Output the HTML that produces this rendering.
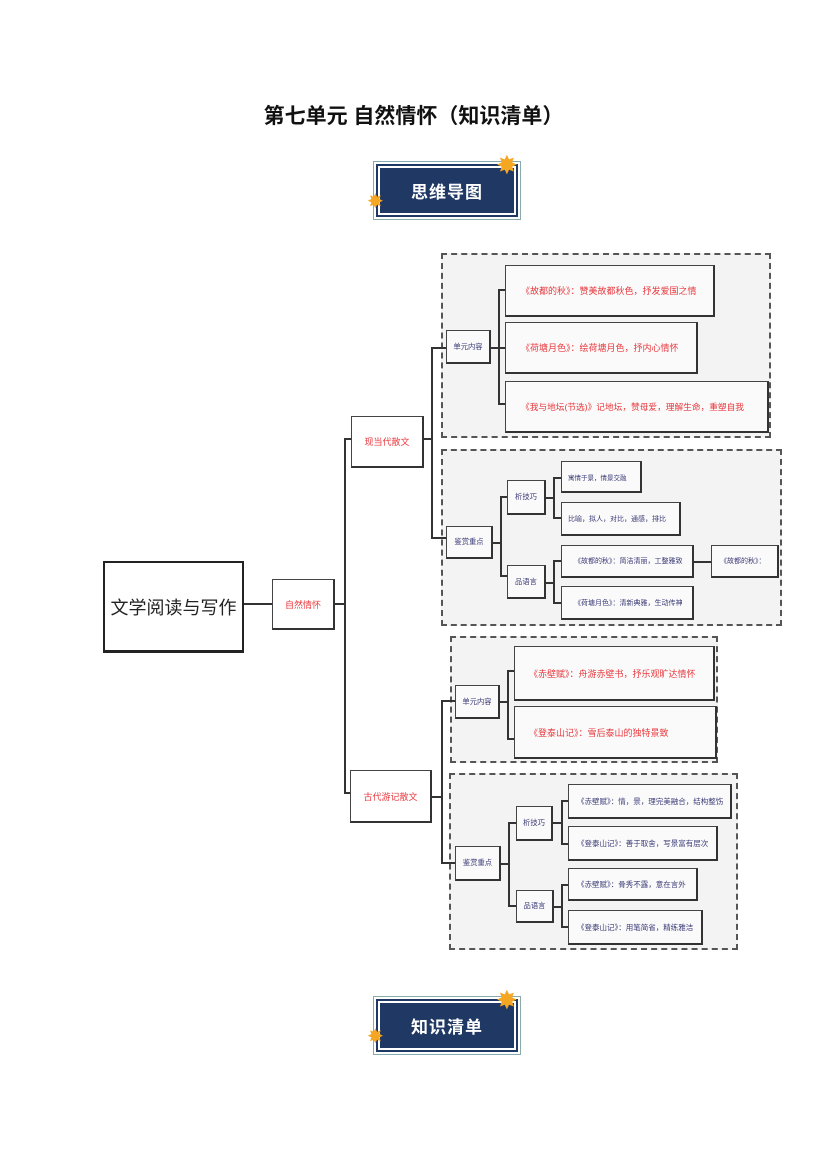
<!DOCTYPE html>
<html><head><meta charset="utf-8"><style>
body{margin:0;width:827px;height:1169px;background:#fff;position:relative;font-family:"Liberation Sans","Noto Sans CJK SC",sans-serif;overflow:hidden}
.a{position:absolute;box-sizing:border-box}
.b{position:absolute;box-sizing:border-box;background:#fafafa;border:1px solid #444;border-bottom:2px solid #333;border-right:2px solid #333;display:flex;align-items:center;font-size:7.3px;white-space:nowrap;overflow:hidden}
.r{color:#e8383d;font-size:9px}
.g{color:#3a3a78}
.c{justify-content:center}
.p{padding-left:12px}
.d{position:absolute;box-sizing:border-box;border:2px dashed #555;background:#f3f3f3}
.h{position:absolute;height:2px;background:#333}
.v{position:absolute;width:2px;background:#333}
.badge{position:absolute;width:134px;height:45px;background:#1f3864;border:2px solid #fff;outline:2px solid #1f3864;box-shadow:0 0 0 4px #fff,0 0 0 5px #8aa;color:#fff;font-weight:bold;font-size:17px;display:flex;align-items:center;justify-content:center;letter-spacing:1px}
.star{position:absolute;color:#f5a623;font-size:26px;line-height:1}
</style></head><body>
<div class="a" style="left:0;width:827px;top:100px;text-align:center;font-size:21px;font-weight:bold;color:#111">第七单元 自然情怀（知识清单）</div>

<div class="badge" style="left:378px;top:166px">思维导图</div>
<div class="star" style="left:496px;top:152px">✸</div>
<div class="star" style="left:367px;top:192px;font-size:20px">✸</div>

<div class="badge" style="left:378px;top:1001px">知识清单</div>
<div class="star" style="left:496px;top:987px">✸</div>
<div class="star" style="left:367px;top:1027px;font-size:20px">✸</div>

<div class="d" style="left:441px;top:253px;width:330px;height:185px"></div>
<div class="d" style="left:441px;top:449px;width:341px;height:177px"></div>
<div class="d" style="left:450px;top:636px;width:268px;height:127px"></div>
<div class="d" style="left:449px;top:773px;width:289px;height:177px"></div>

<div class="b c" style="left:103px;top:561px;width:141px;height:92px;font-size:18px;color:#222;border:2px solid #222;border-bottom:3px solid #222;background:#fff">文学阅读与写作</div>
<div class="h" style="left:244px;top:603px;width:28px"></div>
<div class="b c r" style="left:272px;top:579px;width:63px;height:51px;background:#fff">自然情怀</div>
<div class="h" style="left:335px;top:603px;width:10px"></div>
<div class="v" style="left:344px;top:438px;height:356px"></div>
<div class="h" style="left:344px;top:438px;width:8px"></div>
<div class="h" style="left:344px;top:792px;width:7px"></div>
<div class="b c r" style="left:351px;top:416px;width:73px;height:52px;background:#fff">现当代散文</div>
<div class="b c r" style="left:350px;top:770px;width:82px;height:53px;background:#fff">古代游记散文</div>

<div class="h" style="left:424px;top:438px;width:9px"></div>
<div class="v" style="left:431px;top:347px;height:191px"></div>
<div class="h" style="left:431px;top:347px;width:15px"></div>
<div class="h" style="left:431px;top:537px;width:15px"></div>
<div class="b c g" style="left:446px;top:330px;width:45px;height:34px">单元内容</div>
<div class="h" style="left:491px;top:347px;width:8px"></div>
<div class="v" style="left:498px;top:289px;height:115px"></div>
<div class="h" style="left:498px;top:289px;width:8px"></div>
<div class="h" style="left:498px;top:347px;width:8px"></div>
<div class="h" style="left:498px;top:403px;width:8px"></div>
<div class="b r p" style="left:505px;top:265px;width:210px;height:52px;padding-left:15px">《故都的秋》：赞美故都秋色，抒发爱国之情</div>
<div class="b r p" style="left:505px;top:322px;width:193px;height:52px;padding-left:15px">《荷塘月色》：绘荷塘月色，抒内心情怀</div>
<div class="b r p" style="left:505px;top:381px;width:264px;height:52px;padding-left:15px;font-size:8.7px">《我与地坛(节选)》记地坛，赞母爱，理解生命，重塑自我</div>

<div class="b c g" style="left:446px;top:526px;width:47px;height:33px">鉴赏重点</div>
<div class="h" style="left:493px;top:542px;width:8px"></div>
<div class="v" style="left:500px;top:496px;height:80px"></div>
<div class="h" style="left:500px;top:496px;width:8px"></div>
<div class="h" style="left:500px;top:575px;width:8px"></div>
<div class="b c g" style="left:507px;top:480px;width:39px;height:35px">析技巧</div>
<div class="b c g" style="left:507px;top:565px;width:39px;height:34px">品语言</div>
<div class="h" style="left:546px;top:497px;width:8px"></div>
<div class="v" style="left:553px;top:477px;height:42px"></div>
<div class="h" style="left:553px;top:477px;width:8px"></div>
<div class="h" style="left:553px;top:517px;width:8px"></div>
<div class="b g p" style="left:561px;top:461px;width:81px;height:32px;padding-left:6px;font-size:6.5px">寓情于景，情景交融</div>
<div class="b g p" style="left:561px;top:502px;width:120px;height:34px;padding-left:6px;font-size:7px">比喻，拟人，对比，通感，排比</div>
<div class="h" style="left:546px;top:582px;width:8px"></div>
<div class="v" style="left:553px;top:560px;height:44px"></div>
<div class="h" style="left:553px;top:560px;width:8px"></div>
<div class="h" style="left:553px;top:602px;width:8px"></div>
<div class="b g p" style="left:561px;top:545px;width:133px;height:33px;padding-left:12px;font-size:7px">《故都的秋》：简洁清丽，工整雅致</div>
<div class="b g p" style="left:561px;top:586px;width:133px;height:34px;padding-left:12px;font-size:7px">《荷塘月色》：清新典雅，生动传神</div>
<div class="h" style="left:694px;top:561px;width:17px"></div>
<div class="b g p" style="left:711px;top:545px;width:68px;height:33px;padding-left:8px;font-size:7px">《故都的秋》：</div>

<div class="h" style="left:432px;top:796px;width:10px"></div>
<div class="v" style="left:441px;top:700px;height:164px"></div>
<div class="h" style="left:441px;top:700px;width:14px"></div>
<div class="h" style="left:441px;top:862px;width:14px"></div>
<div class="b c g" style="left:455px;top:685px;width:45px;height:34px">单元内容</div>
<div class="h" style="left:500px;top:701px;width:8px"></div>
<div class="v" style="left:507px;top:670px;height:70px"></div>
<div class="h" style="left:507px;top:670px;width:8px"></div>
<div class="h" style="left:507px;top:738px;width:8px"></div>
<div class="b r p" style="left:514px;top:646px;width:201px;height:55px;padding-left:14px">《赤壁赋》：舟游赤壁书，抒乐观旷达情怀</div>
<div class="b r p" style="left:514px;top:706px;width:203px;height:53px;padding-left:14px">《登泰山记》：雪后泰山的独特景致</div>

<div class="b c g" style="left:455px;top:846px;width:46px;height:35px">鉴赏重点</div>
<div class="h" style="left:501px;top:863px;width:8px"></div>
<div class="v" style="left:508px;top:822px;height:85px"></div>
<div class="h" style="left:508px;top:822px;width:8px"></div>
<div class="h" style="left:508px;top:905px;width:8px"></div>
<div class="b c g" style="left:516px;top:806px;width:37px;height:35px">析技巧</div>
<div class="b c g" style="left:516px;top:890px;width:38px;height:33px">品语言</div>
<div class="h" style="left:553px;top:822px;width:9px"></div>
<div class="v" style="left:561px;top:800px;height:45px"></div>
<div class="h" style="left:561px;top:800px;width:8px"></div>
<div class="h" style="left:561px;top:843px;width:8px"></div>
<div class="b g p" style="left:568px;top:784px;width:164px;height:35px;padding-left:8px;font-size:7.5px">《赤壁赋》：情，景，理完美融合，结构整饬</div>
<div class="b g p" style="left:568px;top:826px;width:150px;height:35px;padding-left:8px;font-size:7.5px">《登泰山记》：善于取舍，写景富有层次</div>
<div class="h" style="left:554px;top:906px;width:8px"></div>
<div class="v" style="left:561px;top:884px;height:44px"></div>
<div class="h" style="left:561px;top:884px;width:8px"></div>
<div class="h" style="left:561px;top:926px;width:8px"></div>
<div class="b g p" style="left:568px;top:868px;width:130px;height:33px;padding-left:8px;font-size:7.5px">《赤壁赋》：骨秀不露，意在言外</div>
<div class="b g p" style="left:568px;top:910px;width:135px;height:35px;padding-left:8px;font-size:7.5px">《登泰山记》：用笔简省，精练雅洁</div>
</body></html>
